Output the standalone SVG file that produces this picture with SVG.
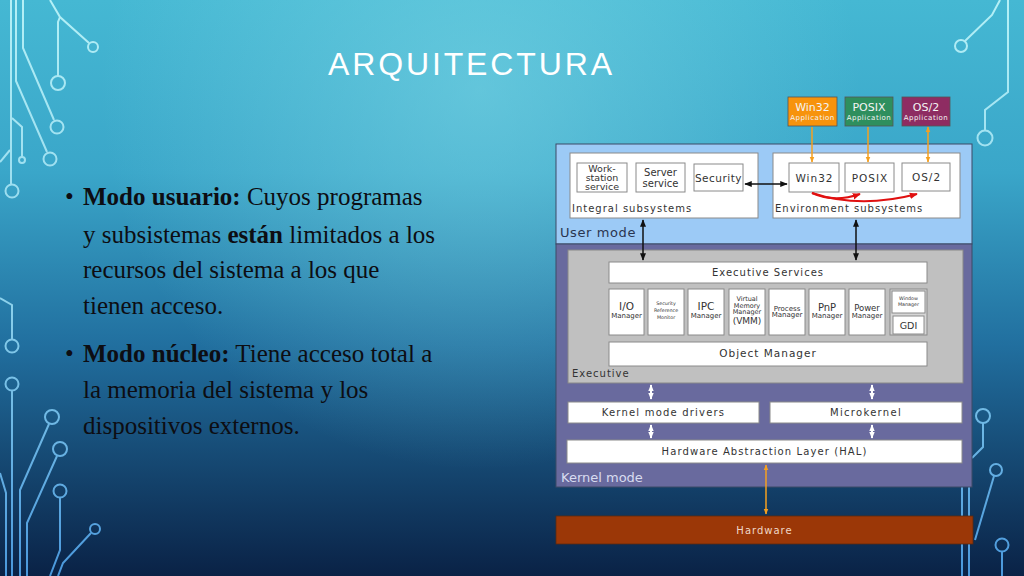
<svg xmlns="http://www.w3.org/2000/svg" width="1024" height="576" viewBox="0 0 1024 576">
<defs>
<linearGradient id="bg" x1="0" y1="0" x2="0" y2="1">
<stop offset="0" stop-color="#45b8d3"/>
<stop offset="0.3" stop-color="#3aa6c9"/>
<stop offset="0.6" stop-color="#216f9f"/>
<stop offset="1" stop-color="#0a2246"/>
</linearGradient>
<radialGradient id="glow" cx="480" cy="90" r="380" gradientUnits="userSpaceOnUse">
<stop offset="0" stop-color="#7fd8e6" stop-opacity="0.55"/>
<stop offset="1" stop-color="#7fd8e6" stop-opacity="0"/>
</radialGradient>
<linearGradient id="wire" x1="0" y1="0" x2="0" y2="576" gradientUnits="userSpaceOnUse">
<stop offset="0" stop-color="#b4f0f6"/>
<stop offset="0.5" stop-color="#8fd4ec"/>
<stop offset="1" stop-color="#4a98dc"/>
</linearGradient>
<marker id="ab" viewBox="0 0 10 10" refX="9" refY="5" markerWidth="5" markerHeight="5" orient="auto-start-reverse"><path d="M0,1 L10,5 L0,9 Z" fill="#111"/></marker>
<marker id="ao" viewBox="0 0 10 10" refX="9" refY="5" markerWidth="4" markerHeight="4" orient="auto-start-reverse"><path d="M0,1 L10,5 L0,9 Z" fill="#f5a020"/></marker>
<marker id="ar" viewBox="0 0 10 10" refX="9" refY="5" markerWidth="4" markerHeight="4" orient="auto"><path d="M0,1 L10,5 L0,9 Z" fill="#e01010"/></marker>
<marker id="aw" viewBox="0 0 10 10" refX="9" refY="5" markerWidth="3.5" markerHeight="3.5" orient="auto-start-reverse"><path d="M0,1 L10,5 L0,9 Z" fill="#ffffff"/></marker>
</defs>
<style>
.wire{fill:none;stroke:url(#wire);stroke-width:2}
.bul{font-family:"Liberation Serif","Times New Roman",serif;font-size:25px;fill:#0d0d12}
.b{font-weight:bold}
.dg{font-family:"DejaVu Sans",Verdana,sans-serif;fill:#333;text-anchor:middle}
.sp{letter-spacing:1px}
.lbl{font-family:"DejaVu Sans",Verdana,sans-serif;fill:#333;font-size:10px;letter-spacing:1px}
.wbox{fill:#ffffff;stroke:#8a8a8a;stroke-width:1}
.mbox{fill:#ffffff;stroke:#8a8a8a;stroke-width:1}
.app{font-family:"DejaVu Sans",Verdana,sans-serif;fill:#f4f4f4;text-anchor:middle}
</style>
<rect width="1024" height="576" fill="url(#bg)"/>
<rect width="1024" height="576" fill="url(#glow)"/>
<g id="circuits">
<polyline class="wire" points="50,0 60,17 89,43"/>
<circle class="wire" cx="93" cy="47" r="5"/>
<polyline class="wire" points="60,17 58,22 58,76"/>
<circle class="wire" cx="58" cy="83" r="7"/>
<polyline class="wire" points="23,0 23,48 54,120"/>
<circle class="wire" cx="57" cy="127" r="6.5"/>
<polyline class="wire" points="16,0 16,81 47,152"/>
<circle class="wire" cx="50" cy="159" r="6.5"/>
<polyline class="wire" points="11,0 11,184"/>
<circle class="wire" cx="12" cy="191" r="6.5"/>
<polyline class="wire" points="12,118 22,127 22,157"/>
<circle class="wire" cx="22" cy="160" r="3"/>
<polyline class="wire" points="0,162 10,150"/>
<polyline class="wire" points="0,298 12,305 12,339"/>
<circle class="wire" cx="12" cy="346" r="6.5"/>
<circle class="wire" cx="12" cy="384" r="6.5"/>
<polyline class="wire" points="12,391 12,576"/>
<circle class="wire" cx="52" cy="417" r="7"/>
<polyline class="wire" points="49,424 20,490 20,576"/>
<circle class="wire" cx="60" cy="449" r="7"/>
<polyline class="wire" points="57,456 27,523 27,576"/>
<circle class="wire" cx="60" cy="491" r="6.5"/>
<polyline class="wire" points="60,498 60,550 50,576"/>
<circle class="wire" cx="95" cy="529" r="5"/>
<polyline class="wire" points="91,533 63,563 58,576"/>
<polyline class="wire" points="0,473 6,493 6,576"/>
<polyline class="wire" points="1000,0 992,15 965,41"/>
<circle class="wire" cx="961" cy="46" r="6"/>
<polyline class="wire" points="1008,0 1008,92 985,110 985,130"/>
<circle class="wire" cx="985" cy="138" r="7.5"/>
<circle class="wire" cx="983" cy="416" r="7"/>
<polyline class="wire" points="983,423 983,447 972,458"/>
<circle class="wire" cx="996" cy="470" r="6"/>
<polyline class="wire" points="994,476 975,540"/>
<circle class="wire" cx="1002" cy="545" r="6.5"/>
<polyline class="wire" points="1002,552 1002,576"/>
<polyline class="wire" points="962,487 962,576"/>
<polyline class="wire" points="969,487 969,576"/>
</g>
<text id="title" x="328" y="75" font-family="'Liberation Sans','DejaVu Sans',sans-serif" font-size="32" fill="#ffffff" textLength="284">ARQUITECTURA</text>
<g id="bullets">
<text class="bul" x="65" y="205">•</text>
<text class="bul" x="83" y="205"><tspan class="b">Modo usuario:</tspan> Cuyos programas</text>
<text class="bul" x="83" y="243">y subsistemas <tspan class="b">están</tspan> limitados a los</text>
<text class="bul" x="83" y="278">recursos del sistema a los que</text>
<text class="bul" x="83" y="314">tienen acceso.</text>
<text class="bul" x="65" y="362">•</text>
<text class="bul" x="83" y="362"><tspan class="b">Modo núcleo:</tspan> Tiene acceso total a</text>
<text class="bul" x="83" y="398">la memoria del sistema y los</text>
<text class="bul" x="83" y="434">dispositivos externos.</text>
</g>
<g id="user-mode">
<rect x="556" y="144" width="416" height="100" fill="#9ccaf6" stroke="#3c4a66" stroke-width="1"/>
<text x="560" y="237" font-family="'DejaVu Sans',Verdana,sans-serif" font-size="13" letter-spacing="0.6" fill="#2a3550">User mode</text>
</g>
<g id="kernel-mode">
<rect x="556" y="244" width="416" height="243" fill="#696a9e" stroke="#3c4a66" stroke-width="1"/>
<text x="561" y="482" font-family="'DejaVu Sans',Verdana,sans-serif" font-size="13" fill="#d8dcf0">Kernel mode</text>
</g>
<g id="integral-subsystems">
<rect x="570" y="153" width="188" height="65" class="wbox"/>
<text class="lbl" x="572" y="212">Integral subsystems</text>
</g>
<g id="workstation-service">
<rect x="577" y="163" width="50" height="29" class="mbox"/>
<text class="dg" x="602" y="172" font-size="9.5">Work-</text>
<text class="dg" x="602" y="181" font-size="9.5">station</text>
<text class="dg" x="602" y="190" font-size="9.5">service</text>
</g>
<g id="server-service">
<rect x="636" y="163" width="49" height="29" class="mbox"/>
<text class="dg" x="660.5" y="176" font-size="10">Server</text>
<text class="dg" x="660.5" y="187" font-size="10">service</text>
</g>
<g id="security">
<rect x="694" y="164" width="49" height="27" class="mbox"/>
<text class="dg" x="718.5" y="182" font-size="10.5" letter-spacing="0.5">Security</text>
</g>
<g id="environment-subsystems">
<rect x="773" y="153" width="187" height="65" class="wbox"/>
<text class="lbl" x="775" y="212">Environment subsystems</text>
</g>
<g id="win32">
<rect x="789" y="163" width="50" height="29" class="mbox"/>
<text class="dg sp" x="814.5" y="182" font-size="10.5">Win32</text>
</g>
<g id="posix">
<rect x="845" y="163" width="49" height="29" class="mbox"/>
<text class="dg sp" x="870" y="182" font-size="10.5">POSIX</text>
</g>
<g id="os2">
<rect x="902" y="163" width="48" height="28" class="mbox"/>
<text class="dg sp" x="926.5" y="181" font-size="10.5">OS/2</text>
</g>
<g id="win32-app">
<rect x="788" y="97" width="49" height="29" fill="#f7930c" stroke="#555" stroke-width="0.8"/>
<text class="app" x="812.5" y="111" font-size="11">Win32</text>
<text class="app" x="812.5" y="120" font-size="7" letter-spacing="0.5">Application</text>
</g>
<g id="posix-app">
<rect x="845" y="97" width="48" height="29" fill="#2e8f5e" stroke="#555" stroke-width="0.8"/>
<text class="app" x="869" y="111" font-size="11">POSIX</text>
<text class="app" x="869" y="120" font-size="7" letter-spacing="0.5">Application</text>
</g>
<g id="os2-app">
<rect x="902" y="97" width="48" height="29" fill="#8e2c62" stroke="#555" stroke-width="0.8"/>
<text class="app" x="926" y="111" font-size="11">OS/2</text>
<text class="app" x="926" y="120" font-size="7" letter-spacing="0.5">Application</text>
</g>
<g id="executive">
<rect x="568" y="250" width="395" height="133" fill="#c0c0c0" stroke="#888" stroke-width="1"/>
<text class="lbl" x="572" y="377">Executive</text>
</g>
<g id="executive-services">
<rect x="609" y="262" width="318" height="21" class="mbox"/>
<text class="dg sp" x="768" y="276" font-size="10">Executive Services</text>
</g>
<g id="io-manager">
<rect x="609" y="289" width="35" height="46" class="mbox"/>
<text class="dg" x="626.5" y="310" font-size="10.5">I/O</text>
<text class="dg" x="626.5" y="318" font-size="7">Manager</text>
</g>
<g id="security-reference-monitor">
<rect x="648" y="289" width="36" height="46" class="mbox"/>
<text class="dg" x="666" y="305" font-size="4.8">Security</text>
<text class="dg" x="666" y="312" font-size="4.8">Reference</text>
<text class="dg" x="666" y="319" font-size="4.8">Monitor</text>
</g>
<g id="ipc-manager">
<rect x="688" y="289" width="36" height="46" class="mbox"/>
<text class="dg" x="706" y="310" font-size="10.5">IPC</text>
<text class="dg" x="706" y="318" font-size="7">Manager</text>
</g>
<g id="vmm">
<rect x="729" y="289" width="36" height="46" class="mbox"/>
<text class="dg" x="747" y="301" font-size="6.5">Virtual</text>
<text class="dg" x="747" y="307.5" font-size="6.5">Memory</text>
<text class="dg" x="747" y="314" font-size="6.5">Manager</text>
<text class="dg" x="747" y="324" font-size="9">(VMM)</text>
</g>
<g id="process-manager">
<rect x="769" y="289" width="36" height="46" class="mbox"/>
<text class="dg" x="787" y="311" font-size="7">Process</text>
<text class="dg" x="787" y="317" font-size="7">Manager</text>
</g>
<g id="pnp-manager">
<rect x="809" y="289" width="36" height="46" class="mbox"/>
<text class="dg" x="827" y="311" font-size="10">PnP</text>
<text class="dg" x="827" y="318" font-size="7">Manager</text>
</g>
<g id="power-manager">
<rect x="849" y="289" width="36" height="46" class="mbox"/>
<text class="dg" x="867" y="311" font-size="8.5">Power</text>
<text class="dg" x="867" y="318" font-size="7">Manager</text>
</g>
<g id="window-manager-gdi">
<rect x="890" y="289" width="37" height="46" fill="#d6d6d6" stroke="#8a8a8a" stroke-width="1"/>
<rect x="892" y="291" width="33" height="22" class="mbox"/>
<text class="dg" x="908.5" y="300" font-size="4.8">Window</text>
<text class="dg" x="908.5" y="306" font-size="4.8">Manager</text>
<rect x="893" y="316" width="31" height="18" class="mbox"/>
<text class="dg" x="908.5" y="329" font-size="9.5">GDI</text>
</g>
<g id="object-manager">
<rect x="609" y="342" width="318" height="24" class="mbox"/>
<text class="dg sp" x="768" y="357" font-size="10.5">Object Manager</text>
</g>
<g id="kernel-mode-drivers">
<rect x="568" y="402" width="191" height="21" class="mbox"/>
<text class="dg" x="663.5" y="416" font-size="10" letter-spacing="1.2">Kernel mode drivers</text>
</g>
<g id="microkernel">
<rect x="770" y="402" width="192" height="21" class="mbox"/>
<text class="dg" x="866" y="416" font-size="10" letter-spacing="1.3">Microkernel</text>
</g>
<g id="hal">
<rect x="567" y="440" width="395" height="23" class="mbox"/>
<text class="dg" x="764.5" y="455" font-size="10" letter-spacing="1.1">Hardware Abstraction Layer (HAL)</text>
</g>
<g id="hardware">
<rect x="556" y="516" width="417" height="28" fill="#9b3707" stroke="#5a2a10" stroke-width="0.8"/>
<text x="764.5" y="534" font-family="'DejaVu Sans',Verdana,sans-serif" font-size="10" letter-spacing="1" fill="#f0d8c8" text-anchor="middle">Hardware</text>
</g>
<g id="connectors" fill="none">
<line x1="812" y1="127" x2="812" y2="162" stroke="#f5a020" stroke-width="1.5" marker-end="url(#ao)"/>
<line x1="868" y1="127" x2="868" y2="162" stroke="#f5a020" stroke-width="1.5" marker-end="url(#ao)"/>
<line x1="928" y1="127" x2="928" y2="162" stroke="#f5a020" stroke-width="1.5" marker-start="url(#ao)" marker-end="url(#ao)"/>
<line x1="745" y1="184" x2="787" y2="184" stroke="#111" stroke-width="1.5" marker-start="url(#ab)" marker-end="url(#ab)"/>
<path d="M812,193 Q834,203 860,194" stroke="#e01010" stroke-width="2" marker-end="url(#ar)"/>
<path d="M812,193 Q860,209 917,194" stroke="#e01010" stroke-width="2" marker-end="url(#ar)"/>
<line x1="643" y1="220" x2="643" y2="260" stroke="#111" stroke-width="1.5" marker-start="url(#ab)" marker-end="url(#ab)"/>
<line x1="856" y1="220" x2="856" y2="260" stroke="#111" stroke-width="1.5" marker-start="url(#ab)" marker-end="url(#ab)"/>
<line x1="651" y1="385" x2="651" y2="399" stroke="#ffffff" stroke-width="2" marker-start="url(#aw)" marker-end="url(#aw)"/>
<line x1="872" y1="385" x2="872" y2="399" stroke="#ffffff" stroke-width="2" marker-start="url(#aw)" marker-end="url(#aw)"/>
<line x1="651" y1="425" x2="651" y2="438" stroke="#ffffff" stroke-width="2" marker-start="url(#aw)" marker-end="url(#aw)"/>
<line x1="872" y1="425" x2="872" y2="438" stroke="#ffffff" stroke-width="2" marker-start="url(#aw)" marker-end="url(#aw)"/>
<line x1="766" y1="465" x2="766" y2="514" stroke="#f5a020" stroke-width="1.5" marker-start="url(#ao)" marker-end="url(#ao)"/>
</g>
</svg>
